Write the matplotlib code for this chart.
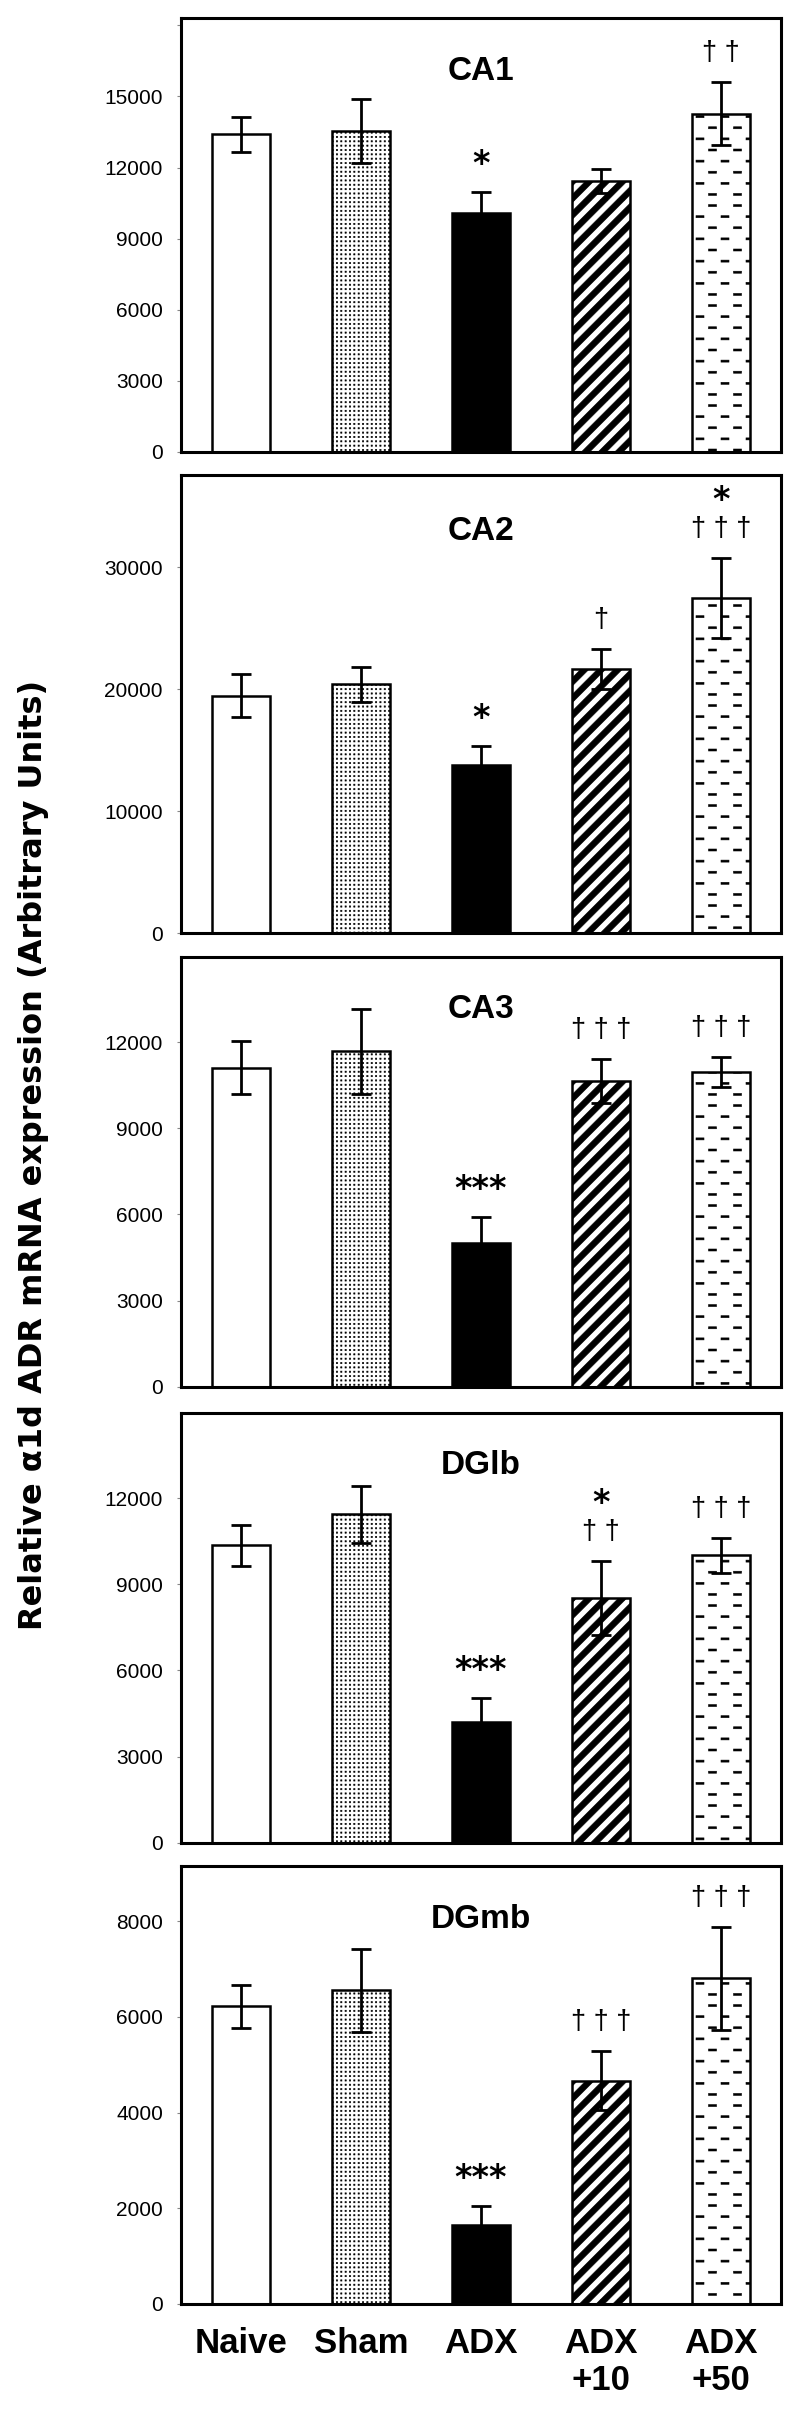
import numpy as np
import matplotlib
matplotlib.use("Agg")
import matplotlib.pyplot as plt
import matplotlib.hatch as mhatch
from matplotlib.path import Path
from matplotlib import font_manager as fm

# ---------------- data ----------------
groups = ["Naive", "Sham", "ADX", "ADX\n+10", "ADX\n+50"]
regions = ["CA1", "CA2", "CA3", "DGlb", "DGmb"]

ca1_mean = [13400, 13550, 10070, 11440, 14280]
ca1_err = [730, 1360, 900, 500, 1310]
ca2_mean = [19480, 20420, 13770, 21650, 27450]
ca2_err = [1750, 1440, 1590, 1620, 3280]
ca3_mean = [11100, 11670, 4990, 10640, 10970]
ca3_err = [920, 1480, 920, 760, 520]
dglb_mean = [10350, 11430, 4210, 8520, 10010]
dglb_err = [700, 1000, 820, 1300, 610]
dgmb_mean = [6220, 6560, 1640, 4670, 6810]
dgmb_err = [445, 870, 400, 616, 1075]

ca1_star = ["", "", "*", "", ""]
ca1_dag = ["", "", "", "", "††"]
ca2_star = ["", "", "*", "", "*"]
ca2_dag = ["", "", "", "†", "†††"]
ca3_star = ["", "", "***", "", ""]
ca3_dag = ["", "", "", "†††", "†††"]
dglb_star = ["", "", "***", "*", ""]
dglb_dag = ["", "", "", "††", "†††"]
dgmb_star = ["", "", "***", "", ""]
dgmb_dag = ["", "", "", "†††", "†††"]

ca1_ticks = [0, 3000, 6000, 9000, 12000, 15000, 18000]
ca1_ticklabels = ["0", "3000", "6000", "9000", "12000", "15000", ""]
ca2_ticks = [0, 10000, 20000, 30000]
ca2_ticklabels = ["0", "10000", "20000", "30000"]
ca3_ticks = [0, 3000, 6000, 9000, 12000]
ca3_ticklabels = ["0", "3000", "6000", "9000", "12000"]
dglb_ticks = [0, 3000, 6000, 9000, 12000]
dglb_ticklabels = ["0", "3000", "6000", "9000", "12000"]
dgmb_ticks = [0, 2000, 4000, 6000, 8000]
dgmb_ticklabels = ["0", "2000", "4000", "6000", "8000"]
ymax = [18300, 37570, 14970, 14970, 9160]

ylabel = "Relative α1d ADR mRNA expression (Arbitrary Units)"

panels = [
    (ca1_mean, ca1_err, ca1_star, ca1_dag, ca1_ticks, ca1_ticklabels),
    (ca2_mean, ca2_err, ca2_star, ca2_dag, ca2_ticks, ca2_ticklabels),
    (ca3_mean, ca3_err, ca3_star, ca3_dag, ca3_ticks, ca3_ticklabels),
    (dglb_mean, dglb_err, dglb_star, dglb_dag, dglb_ticks, dglb_ticklabels),
    (dgmb_mean, dgmb_err, dgmb_star, dgmb_dag, dgmb_ticks, dgmb_ticklabels),
]

# ---------------- custom hatches ----------------
def _rect(x0, y0, w, h):
    return [(x0, y0), (x0 + w, y0), (x0 + w, y0 + h), (x0, y0 + h), (x0, y0)]


class _PolyHatch:
    key = None

    def __init__(self, hatch, density):
        if hatch and self.key in hatch:
            self.polys = np.array(self.build(), dtype=float)
        else:
            self.polys = np.zeros((0, 5, 2))
        self.num_vertices = self.polys.shape[0] * 5

    def set_vertices_and_codes(self, vertices, codes):
        vertices[:] = self.polys.reshape(-1, 2)
        c = np.array([Path.MOVETO, Path.LINETO, Path.LINETO, Path.LINETO,
                      Path.CLOSEPOLY], dtype=Path.code_type)
        codes[:] = np.tile(c, self.polys.shape[0])


class DotHatch(_PolyHatch):
    key = "."

    def build(self):
        n, s = 23, 0.013
        return [_rect((i + .5) / n - s / 2, (j + .5) / n - s / 2, s, s)
                for i in range(n) for j in range(n)]


class StripeHatch(_PolyHatch):
    key = "/"

    def build(self):
        n = 6
        w = 0.5 / n
        polys = []
        for k in range(-n - 1, n + 1):
            x0 = k / n
            polys.append([(x0, 0), (x0 + w, 0), (x0 + w + 1, 1),
                          (x0 + 1, 1), (x0, 0)])
        return polys


class DashHatch(_PolyHatch):
    key = "-"

    def build(self):
        rows, cols, L, t = 9, 4, 0.08, 0.02
        polys = []
        for r in range(rows):
            y = (r + .5) / rows - t / 2
            off = (r % 2) * 0.5 / cols
            for c in range(-1, cols + 1):
                xc = (c + .5) / cols + off
                polys.append(_rect(xc - L / 2, y, L, t))
        return polys


mhatch._hatch_types[:] = [DotHatch, StripeHatch, DashHatch]
plt.rcParams["hatch.linewidth"] = 0.4
plt.rcParams["hatch.color"] = "black"

# ---------------- fonts ----------------
_names = {f.name for f in fm.fontManager.ttflist}


def pick(*cands):
    for c in cands:
        if c in _names:
            return c
    return "DejaVu Sans"


sans = pick("Liberation Sans", "Arimo", "DejaVu Sans")
plt.rcParams["font.family"] = [sans, "DejaVu Sans"]

# ---------------- styles ----------------
bar_faces = ["white", "white", "black", "white", "white"]
bar_hatches = [None, ".", None, "/", "-"]

W, H = 800, 2423
boxes = [(18.3, 451.7), (475, 933.3), (956.7, 1386.7), (1412.7, 1842.7), (1866, 2303.6)]
ax_left, ax_right = 181, 781

fig = plt.figure(figsize=(W / 100, H / 100), dpi=100)
x = np.arange(len(groups))
PX = 0.72  # points per pixel

for p, ((mean, err, star, dag, ticks, ticklabels), (top, bot)) in enumerate(zip(panels, boxes)):
    ax = fig.add_axes([ax_left / W, 1 - bot / H, (ax_right - ax_left) / W, (bot - top) / H])
    ax.bar(x, mean, width=0.49, color=bar_faces, edgecolor="black",
           linewidth=1.8, zorder=2)
    for patch, h in zip(ax.patches, bar_hatches):
        if h:
            patch.set_hatch(h)
    ax.errorbar(x, mean, yerr=err, fmt="none", ecolor="black", elinewidth=2.0,
                capsize=7, capthick=2.0, zorder=3)
    ax.set_xlim(-0.5, 4.5)
    ax.set_ylim(0, ymax[p])
    ax.set_yticks(ticks)
    ax.set_yticklabels(ticklabels)
    ax.tick_params(axis="y", length=3, width=0.8, color="#888888", pad=10,
                   labelsize=15)
    for s in ax.spines.values():
        s.set_linewidth(2.2)
    ax.set_xticks(x)
    if p == len(panels) - 1:
        ax.set_xticklabels(groups, fontsize=25, fontweight="bold",
                           linespacing=1.15)
        ax.tick_params(axis="x", length=0, pad=17)
    else:
        ax.set_xticklabels([])
        ax.tick_params(axis="x", length=0)

    ax.annotate(regions[p], xy=(2, 1 - 0.115), xycoords=("data", "axes fraction"),
                xytext=(0, -12 * PX), textcoords="offset points",
                ha="center", va="baseline", fontsize=24, fontweight="bold")

    for i in range(len(groups)):
        ytop = mean[i] + err[i]
        has_dag = bool(dag[i])
        if has_dag:
            ax.annotate(" ".join(dag[i]), xy=(i, ytop), xytext=(0, 22 * PX),
                        textcoords="offset points", ha="center", va="baseline",
                        fontsize=19.5)
        if star[i]:
            off = 48 if has_dag else 18
            ax.annotate(star[i], xy=(i, ytop), xytext=(0, off * PX),
                        textcoords="offset points", ha="center", va="baseline",
                        fontsize=24, fontweight="bold", family="DejaVu Sans")

fig.text(34 / W, 1 - 1155 / H, ylabel, rotation=90, ha="center", va="center",
         fontsize=23, fontweight="bold", family="DejaVu Sans")

fig.savefig("out.png", dpi=100)
